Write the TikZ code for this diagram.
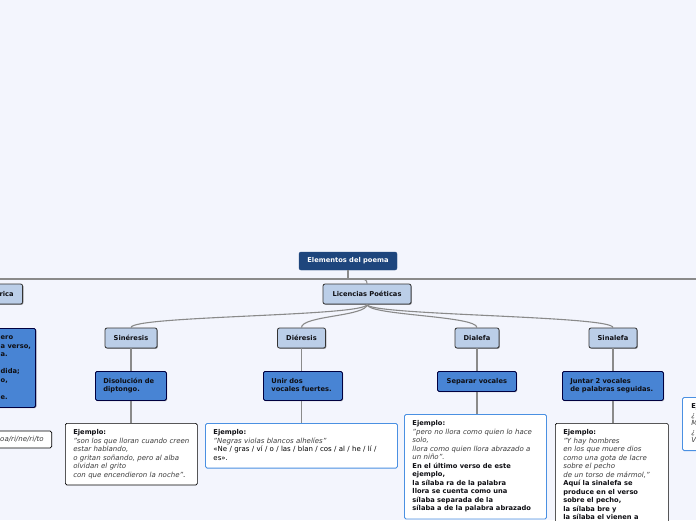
\documentclass[tikz,border=0pt]{standalone}
\usepackage{fontspec}
\setmainfont{DejaVu Sans}
\usetikzlibrary{shadows}
\definecolor{bgc}{RGB}{243,245,253}
\definecolor{hdr}{RGB}{30,70,125}
\definecolor{lbl}{RGB}{187,206,232}
\definecolor{mbl}{RGB}{72,132,212}
\definecolor{bbd}{RGB}{74,144,226}
\definecolor{lnc}{RGB}{138,138,138}
\definecolor{txt}{RGB}{15,15,20}
\definecolor{itc}{RGB}{60,60,60}
\newcommand\exlines[1]{\begin{tabular}{@{}l@{}}#1\end{tabular}}
\newcommand\bt[1]{{\fontsize{6.7}{8.5}\selectfont\bfseries\color{txt}#1}}
\newcommand\itx[1]{{\itshape\color{itc}#1}}
\begin{document}
\begin{tikzpicture}[x=1pt,y=-1pt,
  basefont/.style={font=\fontsize{7}{8.5}\selectfont},
  boldfont/.style={font=\fontsize{6.7}{8.5}\selectfont\bfseries},
  shad/.style={drop shadow={shadow xshift=0.8pt,shadow yshift=-0.8pt,opacity=0.4,fill=black}},
  hdrbox/.style={boldfont, fill=hdr, draw=hdr, rounded corners=2pt, text=white, inner sep=0pt},
  lbbox/.style={boldfont, fill=lbl, draw=black!80, line width=0.8pt, rounded corners=2pt, text=txt, inner sep=0pt, shad},
  mbbox/.style={boldfont, fill=mbl, draw=black!75!blue, line width=0.8pt, rounded corners=1.5pt, text=txt, inner xsep=8pt, inner ysep=6pt, align=left, anchor=north west, shad},
  exbox/.style={basefont, fill=white, draw=black, line width=0.7pt, rounded corners=1.5pt, inner xsep=8pt, inner ysep=5.3pt, align=left, anchor=north west},
  exbluebox/.style={exbox, draw=bbd, line width=0.9pt},
  conn/.style={draw=lnc, line width=1.1pt},
  mainline/.style={draw=lnc, line width=1.7pt}
]
\useasboundingbox (0,0) rectangle (696,520);
\clip (0,0) rectangle (696,520);
\fill[bgc] (0,0) rectangle (696,520);

% main horizontal line
\coordinate (hl) at (0,279);
\coordinate (hr) at (696,279);
\coordinate (hj) at (358,279);
\draw[mainline] (hl) -- (hr);

% header
\node[hdrbox, minimum width=98pt, minimum height=18pt] (elem) at (348,261) {Elementos del poema};
\draw[conn] (elem.south) -- (elem.south |- hl);

% first level
\node[lbbox, minimum width=88pt, minimum height=20pt] (lic) at (367,294) {Licencias Poéticas};
\node[lbbox, anchor=east, minimum height=20pt, inner xsep=9pt] (met) at (23,294) {Métrica};
\draw[conn] (hj) .. controls +(7,0) and +(0,-4) .. (lic.north);

% second level
\node[lbbox, minimum width=52pt, minimum height=20pt] (sin) at (131,338) {Sinéresis};
\node[lbbox, minimum width=48pt, minimum height=20pt] (die) at (301.5,338) {Diéresis};
\node[lbbox, minimum width=44pt, minimum height=20pt] (dia) at (477,338) {Dialefa};
\node[lbbox, minimum width=48pt, minimum height=20pt] (sil) at (613,338) {Sinalefa};

\draw[conn] (lic.south) .. controls +(0,12) and +(0,-12) .. (sin.north);
\draw[conn] (lic.south) .. controls +(0,12) and +(0,-12) .. (die.north);
\draw[conn] (lic.south) .. controls +(0,11) and +(0,-12) .. (dia.north);
\draw[conn] (lic.south) .. controls +(0,11) and +(0,-12) .. (sil.north);

% third level
\node[mbbox, text width=55pt] (diso) at (95,371) {\exlines{Disolución de\\diptongo.}};
\node[mbbox, text width=63pt] (unir) at (263,371) {\exlines{Unir dos\\vocales fuertes.}};
\node[mbbox, inner ysep=1.5pt, minimum height=20pt, text width=63pt, align=center] (sep) at (437,371) {Separar vocales};
\node[mbbox, text width=85pt] (junt) at (562,371) {\exlines{Juntar 2 vocales\\de palabras seguidas.}};

\draw[conn] (sin.south) -- (sin.south |- diso.north);
\draw[conn] (die.south) -- (die.south |- unir.north);
\draw[conn] (dia.south) -- (dia.south |- sep.north);
\draw[conn] (sil.south) -- (sil.south |- junt.north);

% examples
\node[exbox, text width=116pt] (ex1) at (65,423) {\exlines{%
\bt{Ejemplo:}\\
\itx{"son los que lloran cuando creen}\\
\itx{estar hablando,}\\
\itx{o gritan soñando, pero al alba}\\
\itx{olvidan el grito}\\
\itx{con que encendieron la noche"}.}};

\node[exbluebox, text width=176pt] (ex2) at (205,423) {\exlines{%
\bt{Ejemplo:}\\
\itx{"Negras violas blancos alhelíes"}\\
«Ne / gras / ví / o / las / blan / cos / al / he / lí /\\
es».}};

\node[exbluebox, text width=126pt, inner ysep=5.5pt] (ex3) at (404,414) {\exlines{%
\bt{Ejemplo:}\\
\itx{"pero no llora como quien lo hace}\\
\itx{solo,}\\
\itx{llora como quien llora abrazado a}\\
\itx{un niño".}\\
\bt{En el último verso de este}\\
\bt{ejemplo,}\\
\bt{la sílaba ra de la palabra}\\
\bt{llora se cuenta como una}\\
\bt{sílaba separada de la}\\
\bt{sílaba a de la palabra abrazado}}};

\node[exbox, text width=97pt] (ex4) at (555,423) {\exlines{%
\bt{Ejemplo:}\\
\itx{"Y hay hombres}\\
\itx{en los que muere dios}\\
\itx{como una gota de lacre}\\
\itx{sobre el pecho}\\
\itx{de un torso de mármol,"}\\
\bt{Aquí la sinalefa se}\\
\bt{produce en el verso}\\
\bt{sobre el pecho,}\\
\bt{la sílaba bre y}\\
\bt{la sílaba el vienen a}}};

\draw[conn] (diso.south -| sin.south) -- (sin.south |- ex1.north);
\draw[conn] (unir.south -| die.south) -- (die.south |- ex2.north);
\draw[conn] (sep.south -| dia.south) -- (dia.south |- ex3.north);
\draw[conn] (junt.south -| sil.south) -- (sil.south |- ex4.north);

% partial nodes at the edges
\node[mbbox, anchor=north east, minimum width=96pt, minimum height=79pt] (lbox) at (36,328) {};
\node[boldfont, text=txt, anchor=north west, inner sep=0pt] (ltext) at (0.5,333.5) {\exlines{ero\\a verso,\\a.\\ \\dida;\\o,\\ \\e.}};
\node[exbox, anchor=east, minimum height=17pt, inner ysep=0pt] (lex) at (52,439.5) {\itx{oa/ri/ne/ri/to}};
\node[exbluebox, text width=60pt, inner xsep=9pt] (rex) at (682,397) {\exlines{%
\bt{Ejemplo:}\\
\itx{¿}\\
\itx{M}\\
\itx{¿}\\
\itx{V}}};
\end{tikzpicture}
\end{document}
